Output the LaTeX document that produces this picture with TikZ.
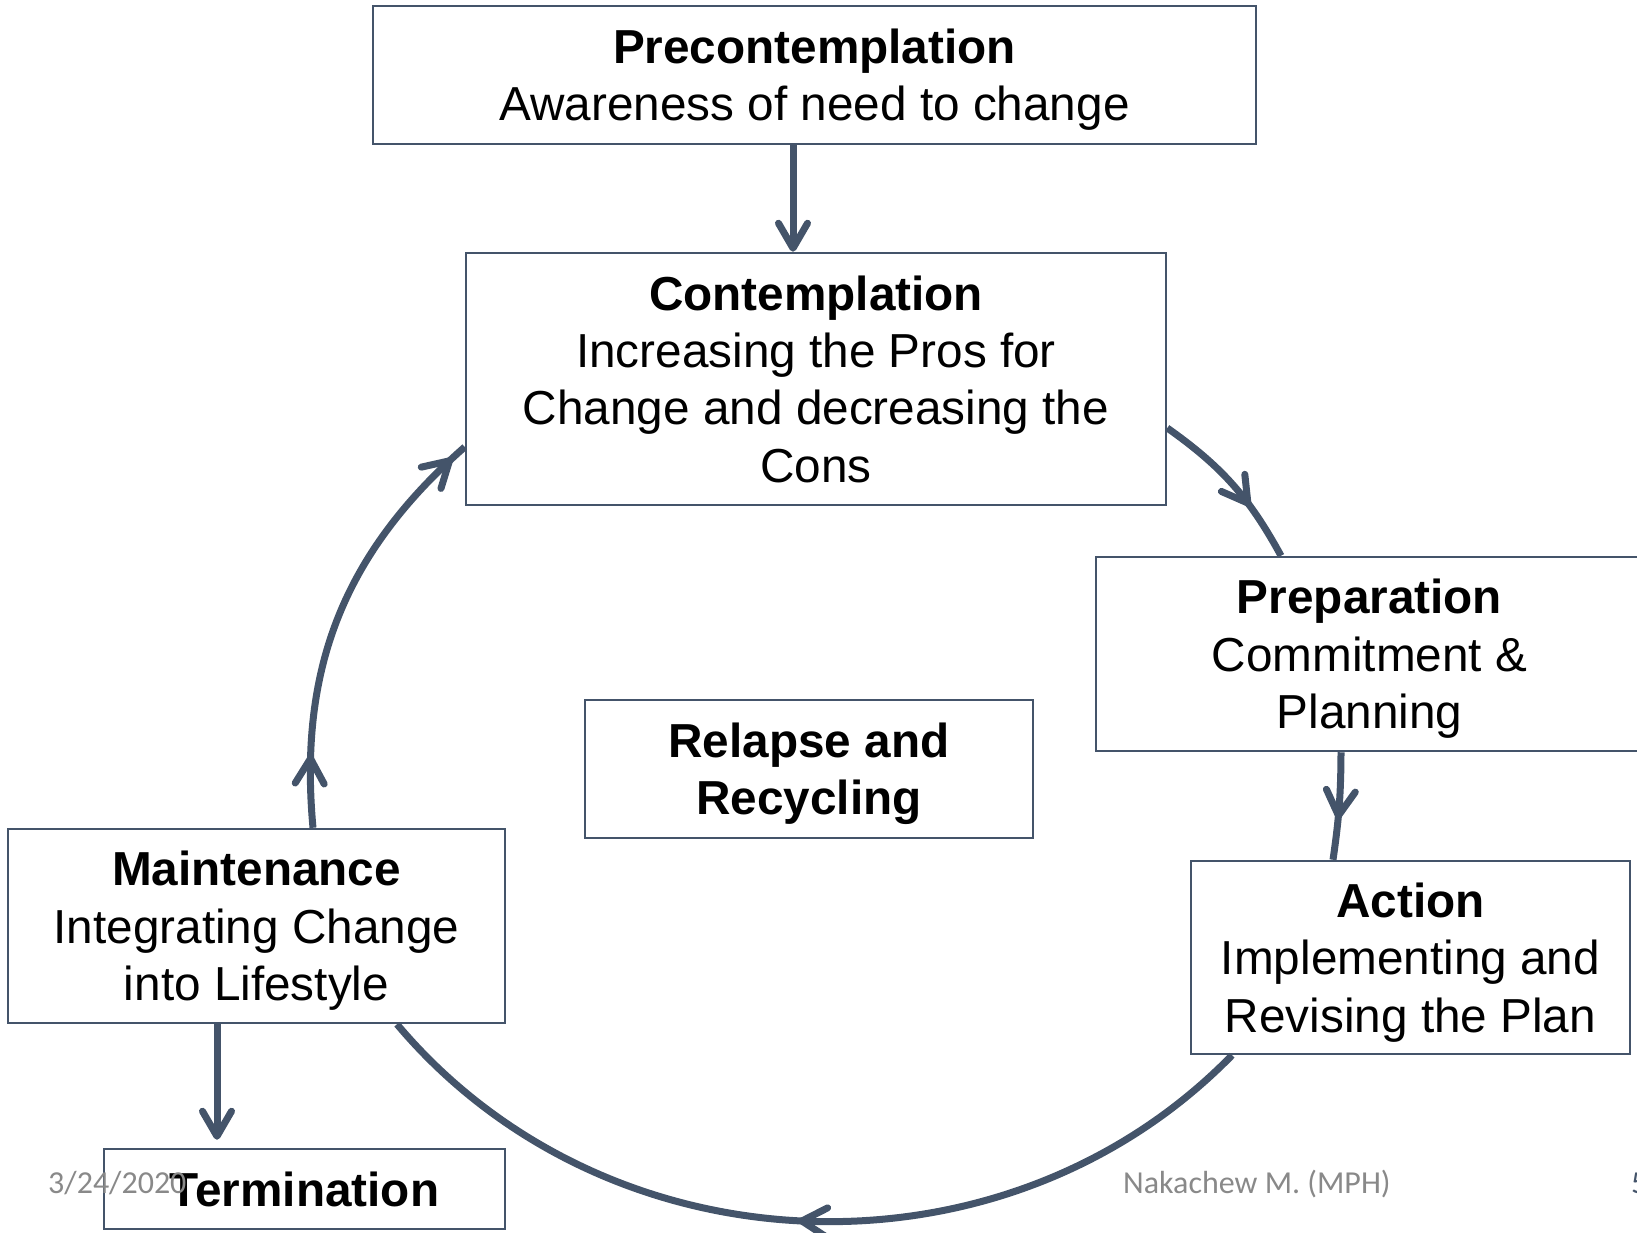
\documentclass[tikz,border=0pt]{standalone}
\usepackage{fontspec}
\setmainfont{Liberation Sans}
\newfontfamily\footfont{Carlito}
\usetikzlibrary{arrows.meta,decorations.markings}
\definecolor{slate}{HTML}{44546A}
\definecolor{footgray}{HTML}{898989}
\begin{document}
\begin{tikzpicture}[x=1pt,y=1pt,
  stage/.style={draw=slate, line width=2.5pt, fill=white, inner sep=0pt,
    align=center, text depth=0pt, font=\fontsize{47.7}{57.3}\selectfont},
  barb/.tip={Straight Barb[length=25pt,width=29pt,round]},
  flow/.style={draw=slate, line width=7pt},
  midtip/.style={postaction={decorate},
    decoration={markings, mark=at position #1 with {\arrow{barb}}}},
  foot/.style={font=\footfont\fontsize{32}{38}\selectfont, inner sep=0pt, anchor=base west}
]
\useasboundingbox (0,0) rectangle (1637,-1233);
\clip (0,0) rectangle (1637,-1233);

% stages of change
\node[stage, minimum width=883, minimum height=138] (precon) at (814.5,-75)
  {{\bfseries Precontemplation}\\Awareness of need to change};
\node[stage, minimum width=700, minimum height=252] (contemp) at (816,-379)
  {{\bfseries Contemplation}\\Increasing the Pros for\\Change and decreasing the\\Cons};
\node[stage, minimum width=547, minimum height=194] (prep) at (1369.5,-654)
  {{\bfseries Preparation}\\Commitment \&\\Planning};
\node[stage, minimum width=439, minimum height=193] (action) at (1410.5,-957.5)
  {{\bfseries Action}\\Implementing and\\Revising the Plan};
\node[stage, minimum width=448, minimum height=138] (relapse) at (809,-769)
  {\bfseries Relapse and\\\bfseries Recycling};
\node[stage, minimum width=497, minimum height=194] (maint) at (256.5,-926)
  {{\bfseries Maintenance}\\Integrating Change\\into Lifestyle};
\node[stage, minimum width=401, minimum height=80] (term) at (304.5,-1189)
  {\bfseries Termination};

% straight links
\draw[flow, -{barb}] ([xshift=-21.5pt]precon.south) -- ([xshift=-21.5pt]precon.south |- contemp.north);
\draw[flow, -{barb}, shorten >=8pt] ([xshift=-39.5pt]maint.south) -- ([xshift=-39.5pt]maint.south |- term.north);

% the cycle
\draw[flow, midtip=0.66] ([yshift=-49pt]contemp.east) to[bend left=13] ([xshift=-88.5pt]prep.north);
\draw[flow, midtip=0.62] ([xshift=-28.5pt]prep.south) to[bend left=4] ([xshift=-77.5pt]action.north);
\draw[flow, midtip=0.51] ([xshift=-178.5pt]action.south) to[bend left=47.8] ([xshift=140.5pt]maint.south);
\draw[flow, postaction={decorate},
  decoration={markings,
    mark=at position 0.17 with {\arrow{barb}},
    mark=at position 0.96 with {\arrow{barb}}}]
  ([xshift=56.5pt]maint.north) to[bend left=27] ([yshift=-68pt]contemp.west);

% footer
\node[foot, text=footgray] (date) at (48,-1193) {3/24/2020};
\node[foot, text=footgray] (author) at (1123,-1193) {Nakachew M. (MPH)};
\node[foot, text=slate] (page) at (1631,-1193) {5};
\end{tikzpicture}
\end{document}
